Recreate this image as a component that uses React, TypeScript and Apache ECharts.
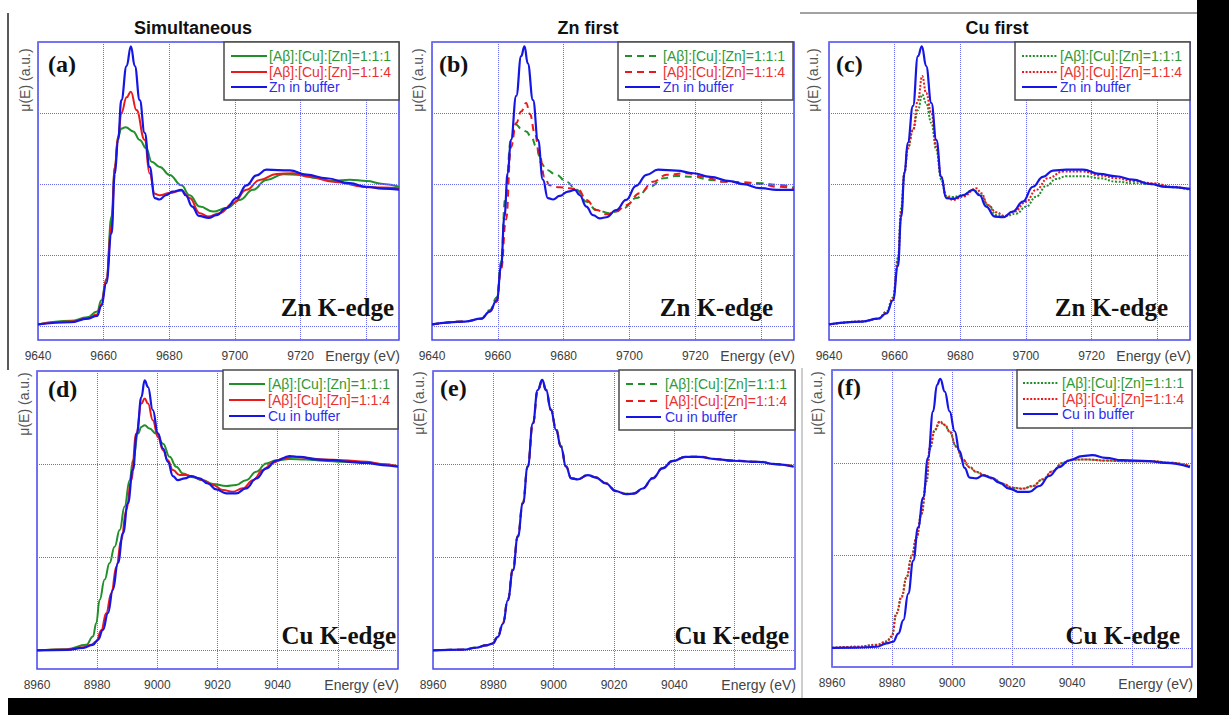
import React, { useEffect, useRef } from 'react';
import * as echarts from 'echarts';

// ---------- data ----------
const ZN_RANGE = [9640, 9750];
const CU_RANGE = [8960, 9080];
const ZN_Y = [-0.1, 2];
const CU_Y = [-0.1, 1.5];
const ZN_GRID_Y = [0, 0.5, 1, 1.5];
const CU_GRID_Y = [0, 0.5, 1];
const ZN_HIDDEN_TICKS = [9740, 9750];
const CU_HIDDEN_TICKS = [9060, 9080];
const PANEL_TITLES = ['Simultaneous', 'Zn first', 'Cu first'];
const PANEL_LETTERS = ['(a)', '(b)', '(c)', '(d)', '(e)', '(f)'];
const SAMPLE_NAMES = ['[Aβ]:[Cu]:[Zn]=1:1:1', '[Aβ]:[Cu]:[Zn]=1:1:4'];
const REF_NAMES = ['Zn in buffer', 'Cu in buffer'];
const EDGE_LABELS = ['Zn K-edge', 'Cu K-edge'];
const X_LABEL = 'Energy (eV)';
const Y_LABEL = 'μ(E) (a.u.)';

type P = [number, number][];

const A_GREEN: P = [[9640,0.01],[9650,0.035],[9655,0.06],[9658,0.1],[9659.3,0.18],[9660.8,0.32],[9662.4,0.77],[9663.4,1.12],[9664.4,1.33],[9665.4,1.39],[9666.7,1.4],[9669,1.37],[9671,1.31],[9673,1.25],[9674.6,1.157],[9677.1,1.12],[9680.1,1.063],[9683.7,0.99],[9686.2,0.92],[9689.3,0.84],[9693.4,0.805],[9697.4,0.83],[9701.5,0.887],[9705.5,0.958],[9709.6,1.028],[9714.7,1.068],[9719.8,1.063],[9724.9,1.04],[9729.9,1.02],[9735,1.03],[9740.1,1.02],[9745.2,1.0],[9750,0.98]];
const A_RED: P = [[9640,0.01],[9650,0.03],[9655,0.05],[9658,0.08],[9659.3,0.15],[9660.8,0.33],[9662.4,0.7],[9663.4,1.12],[9664.4,1.33],[9665.4,1.5],[9667,1.61],[9668.3,1.65],[9670,1.52],[9672.5,1.31],[9674,1.075],[9675.6,0.93],[9677.1,0.92],[9680.1,0.936],[9683.7,0.953],[9686.2,0.9],[9689.3,0.793],[9691.8,0.77],[9695.4,0.793],[9699.5,0.864],[9703.5,0.958],[9707.6,1.028],[9712.7,1.07],[9717.7,1.075],[9722.8,1.05],[9729.9,1.016],[9740.1,0.977],[9750,0.97]];
const A_BLUE: P = [[9640,0.01],[9650,0.025],[9655,0.05],[9658,0.07],[9659.3,0.14],[9660.8,0.3],[9662.4,0.65],[9663.4,1.07],[9664.4,1.31],[9665.4,1.59],[9667,1.83],[9668.3,1.97],[9669.5,1.83],[9671,1.59],[9672.5,1.36],[9674,1.12],[9675.6,0.9],[9677,0.89],[9679,0.92],[9681,0.945],[9683.7,0.958],[9685,0.92],[9687,0.84],[9689,0.775],[9692,0.76],[9694.4,0.78],[9697.4,0.83],[9700.5,0.9],[9703.5,0.99],[9706.6,1.06],[9709.6,1.1],[9716.7,1.095],[9721.8,1.065],[9727.9,1.04],[9735,1.005],[9740,0.98],[9745,0.967],[9750,0.96]];

const B_GREEN: P = [[9640,0.01],[9650,0.03],[9655,0.05],[9657.5,0.11],[9659.7,0.2],[9661,0.45],[9662.2,0.887],[9664,1.31],[9665.4,1.42],[9667.1,1.39],[9668.6,1.37],[9670.2,1.33],[9671.7,1.26],[9673.2,1.146],[9674.7,1.1],[9677.8,1.064],[9680.8,1.016],[9683.9,0.958],[9686.9,0.875],[9690,0.816],[9694,0.793],[9698.1,0.828],[9702.1,0.9],[9706.2,0.98],[9710.3,1.04],[9714.3,1.056],[9719.4,1.05],[9724.5,1.028],[9729.5,1.016],[9734.6,1.01],[9739.7,1.005],[9744.8,0.993],[9750,0.976]];
const B_RED: P = [[9640,0.01],[9650,0.03],[9655,0.05],[9657.5,0.1],[9659.7,0.17],[9661,0.4],[9662.5,0.75],[9664,1.26],[9665.6,1.43],[9667.1,1.51],[9668.6,1.57],[9669.8,1.49],[9671.2,1.36],[9672.7,1.2],[9674.2,1.05],[9675.7,0.99],[9678.8,0.976],[9681.8,0.97],[9684.4,0.962],[9686.9,0.887],[9690,0.816],[9693,0.786],[9696,0.805],[9699,0.85],[9703.1,0.934],[9707.2,1.016],[9711.3,1.064],[9717.4,1.075],[9722.4,1.05],[9728.5,1.016],[9734.6,1.01],[9739.7,1.0],[9744.8,0.98],[9750,0.97]];
const B_BLUE: P = [[9640,0.01],[9650,0.03],[9655,0.05],[9657.5,0.1],[9659.7,0.18],[9661,0.42],[9662,0.77],[9663,1.075],[9664,1.31],[9665.6,1.62],[9667.1,1.9],[9668.1,1.97],[9669.1,1.85],[9670.7,1.59],[9672.2,1.31],[9673.7,1.03],[9675.2,0.9],[9676.8,0.89],[9678.8,0.915],[9681.3,0.946],[9683.4,0.958],[9684.9,0.92],[9686.9,0.84],[9688.9,0.78],[9691,0.757],[9693,0.765],[9696,0.816],[9699,0.887],[9702,0.986],[9705.2,1.064],[9708.7,1.1],[9714.3,1.094],[9719.4,1.075],[9724.5,1.05],[9730.6,1.02],[9734.6,0.998],[9739.7,0.97],[9744.8,0.958],[9750,0.958]];

const C_GREEN: P = [[9640,0.01],[9650,0.03],[9655,0.05],[9657.5,0.1],[9659.5,0.2],[9661,0.48],[9662,0.83],[9663,1.08],[9664,1.25],[9665.6,1.38],[9667.1,1.52],[9668.4,1.63],[9669.6,1.57],[9671.2,1.43],[9672.7,1.24],[9674.2,1.03],[9675.7,0.915],[9677.8,0.908],[9680.8,0.92],[9683.9,0.958],[9686.4,0.92],[9688.4,0.852],[9691,0.78],[9694,0.774],[9697,0.79],[9700.1,0.84],[9703.1,0.91],[9706.2,0.986],[9709.2,1.035],[9712.3,1.054],[9718.4,1.054],[9722.4,1.04],[9727.5,1.016],[9732.6,1.005],[9738.7,0.998],[9744.8,0.977],[9750,0.958]];
const C_RED: P = [[9640,0.01],[9650,0.03],[9655,0.05],[9657.5,0.09],[9659.5,0.19],[9661,0.45],[9662,0.8],[9663,1.08],[9664,1.25],[9665.6,1.38],[9667.1,1.59],[9668.4,1.76],[9669.6,1.64],[9671.2,1.5],[9672.7,1.26],[9674.2,1.05],[9675.7,0.91],[9677.8,0.887],[9680.8,0.91],[9684.9,0.969],[9686.4,0.935],[9688.4,0.852],[9691,0.8],[9693.5,0.774],[9696.5,0.805],[9700.1,0.875],[9703.1,0.958],[9706.7,1.04],[9711.3,1.087],[9717.4,1.087],[9722.4,1.06],[9727.5,1.04],[9732.6,1.02],[9738.7,1.005],[9744.8,0.98],[9750,0.96]];
const C_BLUE: P = [[9640,0.01],[9650,0.03],[9655,0.05],[9657.5,0.087],[9659.5,0.18],[9661,0.42],[9662,0.77],[9663,1.075],[9664,1.29],[9665.6,1.55],[9667.1,1.9],[9668.3,1.97],[9669.6,1.83],[9671.2,1.57],[9672.7,1.31],[9674.2,1.05],[9675.7,0.9],[9677.8,0.894],[9680.8,0.92],[9683.9,0.958],[9685.9,0.92],[9687.9,0.84],[9690.5,0.77],[9693,0.765],[9696,0.805],[9699.1,0.875],[9702.1,0.98],[9705.2,1.05],[9708.2,1.094],[9712.3,1.1],[9717.4,1.1],[9722.4,1.07],[9727.5,1.054],[9732.6,1.03],[9737.7,1.0],[9742.7,0.979],[9750,0.965]];

const D_GREEN: P = [[8960,0.0],[8970,0.006],[8976.4,0.03],[8978.6,0.075],[8979.7,0.146],[8980.8,0.27],[8982.5,0.38],[8984.1,0.468],[8985.8,0.557],[8987.5,0.646],[8989.1,0.771],[8990.8,0.914],[8991.9,1.021],[8993.6,1.164],[8994.7,1.2],[8995.8,1.209],[8997.4,1.191],[8999.6,1.164],[9001.9,1.11],[9004.1,1.039],[9006.3,0.986],[9008.5,0.95],[9011.8,0.929],[9015.1,0.914],[9018.5,0.893],[9022.9,0.882],[9026.2,0.8875],[9029.5,0.914],[9032.9,0.959],[9036.2,1.004],[9039.5,1.021],[9043.9,1.027],[9049.5,1.025],[9055,1.018],[9061.7,1.0125],[9069.4,1.007],[9075,1.0],[9080,0.989]];
const D_RED: P = [[8960,0.0],[8970,0.005],[8975,0.015],[8978,0.03],[8979.7,0.048],[8981.4,0.11],[8983,0.2],[8984.7,0.307],[8986.4,0.45],[8988,0.593],[8989.7,0.754],[8991.3,0.914],[8993,1.164],[8994.7,1.325],[8995.8,1.352],[8996.9,1.325],[8998.5,1.236],[9000.2,1.146],[9001.9,1.075],[9003.5,1.021],[9005.2,0.968],[9007.4,0.941],[9009.6,0.941],[9011.8,0.932],[9015.1,0.914],[9018.5,0.8875],[9021.8,0.861],[9025.1,0.852],[9028.4,0.87],[9031.8,0.914],[9035.1,0.968],[9038.4,1.007],[9041.7,1.03],[9045,1.039],[9049.5,1.034],[9055,1.025],[9061.7,1.021],[9069.4,1.0125],[9075,1.0],[9080,0.989]];
const D_BLUE: P = [[8960,0.0],[8970,0.003],[8975.3,0.013],[8978.6,0.03],[8980.3,0.057],[8981.9,0.11],[8983.6,0.2],[8985.2,0.325],[8986.9,0.47],[8988.6,0.63],[8990.2,0.79],[8991.9,0.97],[8993.2,1.165],[8994.7,1.36],[8995.8,1.45],[8996.9,1.414],[8998.5,1.29],[9000.2,1.165],[9001.9,1.084],[9003.5,1.0125],[9005.2,0.936],[9006.8,0.914],[9009.1,0.923],[9011.3,0.936],[9014,0.923],[9016.8,0.896],[9019.6,0.864],[9022.9,0.843],[9026.2,0.843],[9029.5,0.87],[9032.9,0.923],[9036.2,0.977],[9039.5,1.018],[9043.9,1.043],[9047.3,1.039],[9052.8,1.025],[9058.3,1.021],[9063.9,1.0125],[9069.4,1.007],[9074.9,0.995],[9080,0.986]];

const E_GREEN: P = [[8960,0.0],[8970,0.004],[8974.3,0.015],[8977.6,0.028],[8979.8,0.04],[8981.5,0.078],[8983.2,0.15],[8984.8,0.275],[8986.5,0.44],[8988.1,0.615],[8989.8,0.795],[8991.4,0.99],[8993.1,1.22],[8994.7,1.395],[8996.2,1.448],[8997.5,1.4],[8999.1,1.295],[9000.8,1.19],[9002.4,1.1],[9004.1,0.99],[9005.8,0.926],[9008,0.92],[9011.3,0.942],[9014,0.93],[9017.3,0.898],[9020.6,0.857],[9023.9,0.841],[9026.7,0.844],[9029.5,0.87],[9032.8,0.925],[9036.1,0.979],[9039.4,1.018],[9043.8,1.04],[9048.2,1.04],[9053.7,1.028],[9059.2,1.02],[9068,1.013],[9073.6,1.001],[9079.6,0.988]];
const E_RED: P = [[8960,0.0],[8970,0.004],[8974.3,0.014],[8977.6,0.027],[8979.8,0.038],[8981.5,0.075],[8983.2,0.148],[8984.8,0.272],[8986.5,0.435],[8988.1,0.612],[8989.8,0.79],[8991.4,0.985],[8993.1,1.215],[8994.7,1.39],[8996.2,1.445],[8997.5,1.395],[8999.1,1.29],[9000.8,1.185],[9002.4,1.095],[9004.1,0.988],[9005.8,0.924],[9008,0.919],[9011.3,0.94],[9014,0.929],[9017.3,0.897],[9020.6,0.856],[9023.9,0.84],[9026.7,0.843],[9029.5,0.869],[9032.8,0.924],[9036.1,0.978],[9039.4,1.017],[9043.8,1.04],[9048.2,1.04],[9053.7,1.027],[9059.2,1.019],[9068,1.013],[9073.6,1.0],[9079.6,0.987]];
const E_BLUE: P = [[8960,0.0],[8970,0.004],[8974.3,0.014],[8977.6,0.027],[8979.8,0.036],[8981.5,0.072],[8983.2,0.143],[8984.8,0.269],[8986.5,0.43],[8988.1,0.609],[8989.8,0.789],[8991.4,0.986],[8993.1,1.219],[8994.7,1.398],[8996.2,1.452],[8997.5,1.398],[8999.1,1.29],[9000.8,1.183],[9002.4,1.093],[9004.1,0.986],[9005.8,0.923],[9008,0.918],[9011.3,0.941],[9014,0.928],[9017.3,0.896],[9020.6,0.855],[9023.9,0.839],[9026.7,0.842],[9029.5,0.869],[9032.8,0.923],[9036.1,0.977],[9039.4,1.016],[9043.8,1.039],[9048.2,1.039],[9053.7,1.027],[9059.2,1.018],[9068,1.0125],[9073.6,1.0],[9079.6,0.986]];

const F_GREEN: P = [[8960,0.003],[8968.3,0.009],[8974.9,0.02],[8978.2,0.038],[8979.9,0.065],[8981.5,0.19],[8983.2,0.28],[8984.9,0.386],[8986.5,0.493],[8988.2,0.6],[8989.8,0.725],[8991.5,0.9],[8992.6,1.075],[8994.3,1.175],[8995.9,1.22],[8997.6,1.203],[8999.2,1.168],[9001.4,1.087],[9003.6,1.016],[9005.9,0.975],[9008.1,0.95],[9010.8,0.933],[9013.6,0.915],[9016.9,0.886],[9020.2,0.865],[9023.5,0.86],[9026.9,0.874],[9030.2,0.91],[9033.5,0.954],[9036.8,0.998],[9040.1,1.016],[9044.5,1.018],[9051.2,1.012],[9057.8,1.008],[9066.6,1.008],[9073.3,1.0],[9079.3,0.982]];
const F_RED: P = [[8960,0.003],[8968.3,0.009],[8974.9,0.018],[8978.2,0.036],[8979.9,0.0625],[8981.5,0.1875],[8983.2,0.277],[8984.9,0.384],[8986.5,0.491],[8988.2,0.598],[8989.8,0.723],[8991.5,0.902],[8992.6,1.08],[8994.3,1.179],[8995.9,1.223],[8997.6,1.205],[8999.2,1.17],[9001.4,1.089],[9003.6,1.018],[9005.9,0.977],[9008.1,0.952],[9010.8,0.934],[9013.6,0.916],[9016.9,0.8875],[9020.2,0.866],[9023.5,0.861],[9026.9,0.875],[9030.2,0.911],[9033.5,0.955],[9036.8,1.0],[9040.1,1.018],[9044.5,1.018],[9051.2,1.0125],[9057.8,1.009],[9066.6,1.009],[9073.3,1.0],[9079.3,0.982]];
const F_BLUE: P = [[8960,0.003],[8968,0.004],[8974.9,0.009],[8978.2,0.027],[8980.4,0.036],[8982.1,0.08],[8983.8,0.152],[8985.4,0.295],[8987.1,0.473],[8988.7,0.652],[8990.4,0.8125],[8992,1.027],[8993.7,1.277],[8995,1.42],[8996.1,1.452],[8997.6,1.384],[8999.2,1.277],[9000.9,1.17],[9002.5,1.0625],[9004.2,0.973],[9005.9,0.92],[9008.1,0.916],[9010.3,0.932],[9013,0.92],[9015.8,0.893],[9019.1,0.861],[9022.4,0.843],[9025.7,0.843],[9029.1,0.875],[9032.4,0.929],[9035.7,0.977],[9039,1.0125],[9043.4,1.036],[9046.7,1.041],[9051.2,1.027],[9056.7,1.014],[9065.5,1.009],[9071,1.0],[9079.3,0.977]];

const PANEL_DATA: P[][] = [
  [A_GREEN, A_RED, A_BLUE],
  [B_GREEN, B_RED, B_BLUE],
  [C_GREEN, C_RED, C_BLUE],
  [D_GREEN, D_RED, D_BLUE],
  [E_GREEN, E_RED, E_BLUE],
  [F_GREEN, F_RED, F_BLUE],
];

// ---------- layout & style ----------
const LAYOUT = [
  { g: [38, 42, 361, 298], lg: [224, 42, 175, 58, 231, 267, 269], rows: [56, 72, 87], letter: [48, 64], edge: [394, 307], ylab: [25, 80], energy: [400, 356], title: [193, 28] },
  { g: [432, 42, 362, 298], lg: [618, 42, 175, 58, 625, 660, 663], rows: [56, 72, 87], letter: [439, 64], edge: [773, 307], ylab: [418, 80], energy: [795, 356], title: [588, 28] },
  { g: [829, 42, 361, 298], lg: [1015, 42, 175, 58, 1022, 1057, 1060], rows: [56, 72, 87], letter: [836, 64], edge: [1168, 307], ylab: [813, 80], energy: [1191, 356], title: [997, 28] },
  { g: [37, 371, 361, 298], lg: [223, 370, 175, 59, 229, 265, 268], rows: [384, 400, 416], letter: [48, 389], edge: [396, 635], ylab: [24, 404], energy: [399, 685] },
  { g: [433, 371, 362, 298], lg: [619, 370, 176, 60, 626, 661, 665], rows: [384, 401, 417], letter: [440, 388], edge: [789, 635], ylab: [419, 403], energy: [796, 685] },
  { g: [832, 370, 360, 297], lg: [1017, 370, 175, 58, 1023, 1058, 1062], rows: [383, 399, 414], letter: [837, 387], edge: [1180, 635], ylab: [817, 403], energy: [1193, 684] },
];
const COLORS = ['#22902a', '#ea1a1c', '#1515e6'];
const TEXT_COLORS = ['#2f9a35', '#ec3030', '#2d2dec'];
const FRAME = '#4848ee';
const GRIDC = '#6a6af0';
const SANS = '"Liberation Sans", Arial, sans-serif';
const SERIF = '"Liberation Serif", "Times New Roman", serif';
const DASHES: any[] = ['solid', [7, 5], [2, 1.6]];

export default function App() {
  const ref = useRef<HTMLDivElement>(null);
  useEffect(() => {
    const chart = echarts.init(ref.current!, null, { renderer: 'svg' });
    const grid: any[] = [];
    const xAxis: any[] = [];
    const yAxis: any[] = [];
    const series: any[] = [];
    const graphic: any[] = [];

    LAYOUT.forEach((L, i) => {
      const isZn = i < 3;
      const col = i % 3;
      const xr = isZn ? ZN_RANGE : CU_RANGE;
      const yr = isZn ? ZN_Y : CU_Y;
      const hidden = isZn ? ZN_HIDDEN_TICKS : CU_HIDDEN_TICKS;
      grid.push({ left: L.g[0], top: L.g[1], width: L.g[2], height: L.g[3], show: true, borderColor: FRAME, borderWidth: 1.5, backgroundColor: 'transparent' });
      xAxis.push({
        gridIndex: i, type: 'value', min: xr[0], max: xr[1], interval: 20,
        axisLine: { show: false }, axisTick: { show: false },
        axisLabel: { color: '#3c3c3c', fontSize: 12, fontFamily: SANS, margin: 10, showMaxLabel: false,
          formatter: (v: number) => (hidden.includes(v) ? '' : String(v)) },
        splitLine: { show: true, lineStyle: { type: [1, 1], color: GRIDC, width: 1 } },
      });
      yAxis.push({
        gridIndex: i, type: 'value', min: yr[0], max: yr[1],
        axisLine: { show: false }, axisTick: { show: false }, axisLabel: { show: false }, splitLine: { show: false },
      });
      // horizontal grid lines
      series.push({
        type: 'line', xAxisIndex: i, yAxisIndex: i, data: [[xr[0], yr[0]]], silent: true, z: 1,
        symbol: 'none', lineStyle: { opacity: 0, width: 0 },
        markLine: { silent: true, symbol: ['none', 'none'], label: { show: false }, animation: false,
          lineStyle: { type: [1, 1], color: GRIDC, width: 1 },
          data: (isZn ? ZN_GRID_Y : CU_GRID_Y).map((v) => ({ yAxis: v })) },
      });
      const names = [SAMPLE_NAMES[0], SAMPLE_NAMES[1], REF_NAMES[isZn ? 0 : 1]];
      PANEL_DATA[i].forEach((d, k) => {
        const dash = k === 2 ? 'solid' : DASHES[col];
        series.push({
          type: 'line', name: names[k], xAxisIndex: i, yAxisIndex: i, data: d,
          symbol: 'none', smooth: 0.45, smoothMonotone: 'x', z: 3 + k,
          lineStyle: { color: COLORS[k], width: k === 2 ? 2.2 : 2, type: dash },
        });
      });
      // legend box
      const [bx, by, bw, bh, l1, l2, tx] = L.lg;
      graphic.push({ type: 'rect', z: 50, shape: { x: bx, y: by, width: bw, height: bh }, style: { fill: '#fff', stroke: '#4a4a4a', lineWidth: 1.5 } });
      names.forEach((n, k) => {
        const dash = k === 2 ? null : DASHES[col];
        graphic.push({ type: 'line', z: 51, shape: { x1: l1, y1: L.rows[k], x2: l2, y2: L.rows[k] },
          style: { stroke: COLORS[k], lineWidth: 2, lineDash: dash === 'solid' ? null : dash } });
        graphic.push({ type: 'text', z: 51, x: tx, y: L.rows[k],
          style: { text: n, fill: TEXT_COLORS[k], font: `14px ${SANS}`, align: 'left', verticalAlign: 'middle' } });
      });
      // panel letter
      graphic.push({ type: 'text', z: 52, x: L.letter[0], y: L.letter[1],
        style: { text: PANEL_LETTERS[i], fill: '#111', font: `bold 24px ${SERIF}`, align: 'left', verticalAlign: 'middle' } });
      // edge label
      graphic.push({ type: 'text', z: 52, x: L.edge[0], y: L.edge[1],
        style: { text: EDGE_LABELS[isZn ? 0 : 1], fill: '#111', font: `bold 25px ${SERIF}`, align: 'right', verticalAlign: 'middle' } });
      // y label
      graphic.push({ type: 'text', z: 52, x: L.ylab[0], y: L.ylab[1], rotation: Math.PI / 2,
        style: { text: Y_LABEL, fill: '#555', font: `14px ${SANS}`, align: 'center', verticalAlign: 'middle' } });
      // x label
      graphic.push({ type: 'text', z: 52, x: L.energy[0], y: L.energy[1],
        style: { text: X_LABEL, fill: '#444', font: `14px ${SANS}`, align: 'right', verticalAlign: 'middle' } });
      if (L.title) {
        graphic.push({ type: 'text', z: 52, x: L.title[0], y: L.title[1],
          style: { text: PANEL_TITLES[col], fill: '#111', font: `bold 18px ${SANS}`, align: 'center', verticalAlign: 'middle' } });
      }
    });

    // page frame pieces from the original figure
    graphic.push({ type: 'rect', z: 60, shape: { x: 1197, y: 0, width: 32, height: 715 }, style: { fill: '#000' } });
    graphic.push({ type: 'rect', z: 60, shape: { x: 8, y: 698, width: 1221, height: 17 }, style: { fill: '#000' } });
    graphic.push({ type: 'line', z: 60, shape: { x1: 8, y1: 13, x2: 8, y2: 370 }, style: { stroke: '#222', lineWidth: 1.5 } });
    graphic.push({ type: 'line', z: 60, shape: { x1: 800, y1: 13, x2: 1197, y2: 13 }, style: { stroke: '#444', lineWidth: 1 } });
    graphic.push({ type: 'line', z: 60, shape: { x1: 802, y1: 368, x2: 802, y2: 698 }, style: { stroke: '#999', lineWidth: 1 } });

    chart.setOption({ animation: false, backgroundColor: '#fff', grid, xAxis, yAxis, series, graphic });
    return () => chart.dispose();
  }, []);
  return <div ref={ref} style={{ position: 'absolute', left: 0, top: 0, width: 1229, height: 715, background: '#fff' }} />;
}
